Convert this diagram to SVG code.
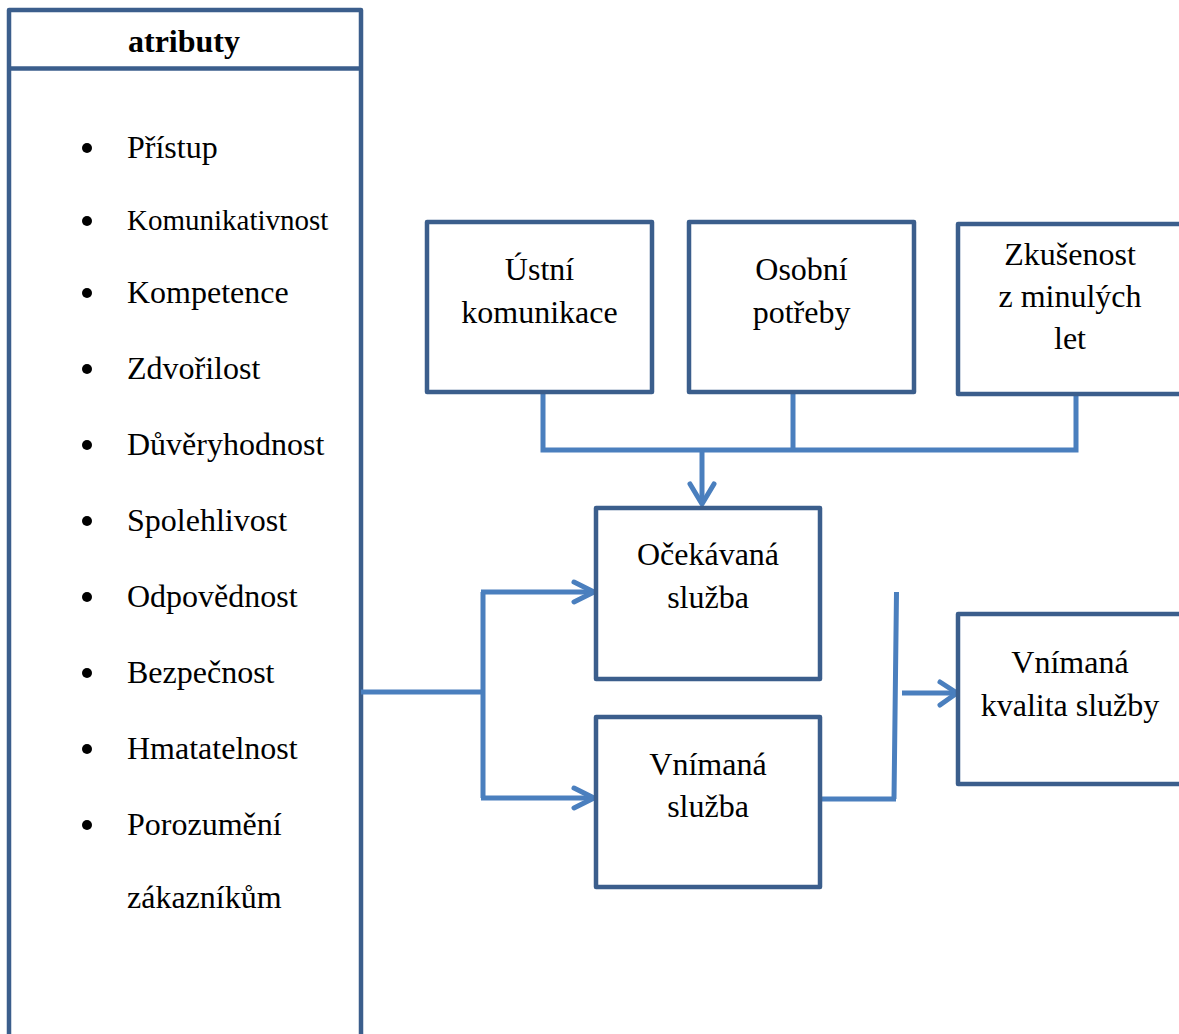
<svg xmlns="http://www.w3.org/2000/svg" width="1179" height="1034" viewBox="0 0 1179 1034">
  <defs>
    <style>
      .box { fill: #ffffff; stroke: #3B5E8C; stroke-width: 4.5; stroke-linejoin: round; }
      .wire { fill: none; stroke: #4A7FBE; stroke-width: 5; stroke-linejoin: miter; }
      .head { fill: none; stroke: #4A7FBE; stroke-width: 5; stroke-linecap: round; stroke-linejoin: round; }
      .t { font-family: "Liberation Serif", "Times New Roman", serif; font-size: 32px; fill: #000000; }
      .c { text-anchor: middle; }
      .b { font-weight: bold; }
    </style>
  </defs>

  <rect width="1179" height="1034" fill="#ffffff"/>

  <!-- attribute list panel -->
  <g id="atributy">
    <rect class="box" x="9" y="10" width="352" height="1040"/>
    <line x1="9" y1="68.5" x2="361" y2="68.5" stroke="#3B5E8C" stroke-width="4.5"/>
    <text class="t c b" x="184" y="52">atributy</text>
    <g fill="#000000">
      <circle cx="87" cy="148" r="5"/>
      <circle cx="87" cy="221" r="5"/>
      <circle cx="87" cy="293" r="5"/>
      <circle cx="87" cy="369" r="5"/>
      <circle cx="87" cy="445" r="5"/>
      <circle cx="87" cy="521" r="5"/>
      <circle cx="87" cy="597" r="5"/>
      <circle cx="87" cy="673" r="5"/>
      <circle cx="87" cy="749" r="5"/>
      <circle cx="87" cy="825" r="5"/>
    </g>
    <text class="t" x="127" y="158">Přístup</text>
    <text class="t" x="127" y="230" style="font-size:29px">Komunikativnost</text>
    <text class="t" x="127" y="303">Kompetence</text>
    <text class="t" x="127" y="379">Zdvořilost</text>
    <text class="t" x="127" y="455">Důvěryhodnost</text>
    <text class="t" x="127" y="531">Spolehlivost</text>
    <text class="t" x="127" y="607">Odpovědnost</text>
    <text class="t" x="127" y="683">Bezpečnost</text>
    <text class="t" x="127" y="759">Hmatatelnost</text>
    <text class="t" x="127" y="835">Porozumění</text>
    <text class="t" x="127" y="908">zákazníkům</text>
  </g>

  <!-- connectors -->
  <g id="connectors">
    <!-- sources merging into expected service -->
    <path class="wire" d="M543 393 V450 H1076 V394"/>
    <line class="wire" x1="793" y1="393" x2="793" y2="450"/>
    <line class="wire" x1="702" y1="450" x2="702" y2="503"/>
    <path class="head" d="M690 484 L702 504 L714 484"/>
    <!-- attributes split to both services -->
    <path class="wire" d="M361 692 H483 M483 592 V798 M481 592 H593 M481 798 H593"/>
    <path class="head" d="M574 582 L594 592 L574 602"/>
    <path class="head" d="M574 788 L594 798 L574 808"/>
    <!-- perceived service to perceived quality -->
    <path class="wire" d="M820 799 H896 M896.5 592 L894 799"/>
    <line class="wire" x1="902" y1="693" x2="955" y2="693"/>
    <path class="head" d="M940 682 L957 693 L940 705"/>
  </g>

  <g id="ustni">
    <rect class="box" x="427" y="222" width="225" height="170"/>
    <text class="t c" x="539.5" y="280">Ústní</text>
    <text class="t c" x="539.5" y="323">komunikace</text>
  </g>

  <g id="osobni">
    <rect class="box" x="689" y="222" width="225" height="170"/>
    <text class="t c" x="801.5" y="280">Osobní</text>
    <text class="t c" x="801.5" y="323">potřeby</text>
  </g>

  <g id="zkusenost">
    <rect class="box" x="958" y="224" width="225" height="170"/>
    <text class="t c" x="1070" y="265">Zkušenost</text>
    <text class="t c" x="1070" y="307">z minulých</text>
    <text class="t c" x="1070" y="349">let</text>
  </g>

  <g id="ocekavana">
    <rect class="box" x="596" y="508" width="224" height="171"/>
    <text class="t c" x="708" y="565">Očekávaná</text>
    <text class="t c" x="708" y="608">služba</text>
  </g>

  <g id="vnimana">
    <rect class="box" x="596" y="717" width="224" height="170"/>
    <text class="t c" x="708" y="775">Vnímaná</text>
    <text class="t c" x="708" y="817">služba</text>
  </g>

  <g id="kvalita">
    <rect class="box" x="958" y="614" width="225" height="170"/>
    <text class="t c" x="1070" y="673">Vnímaná</text>
    <text class="t c" x="1070" y="716">kvalita služby</text>
  </g>
</svg>
